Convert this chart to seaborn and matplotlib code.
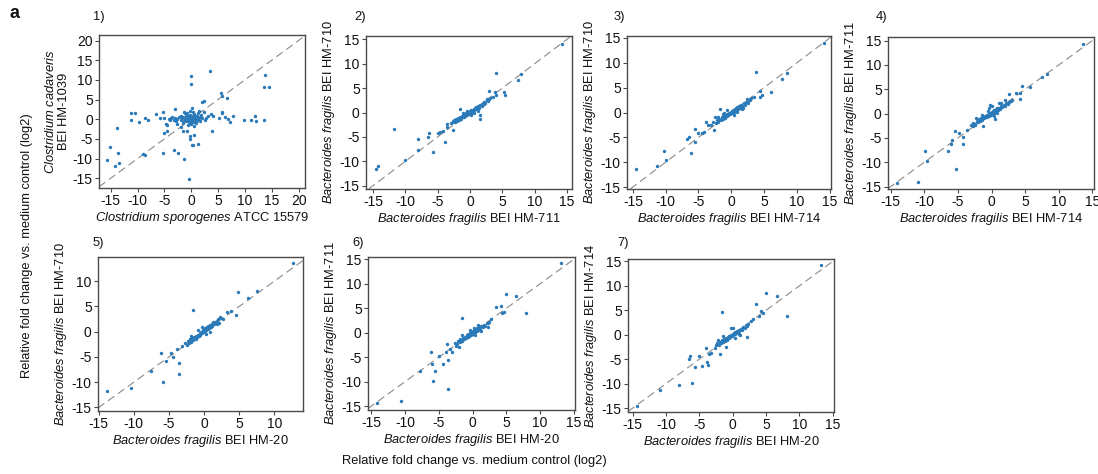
import matplotlib
matplotlib.use("Agg")
import matplotlib.pyplot as plt
import seaborn as sns
import pandas as pd

# ---------------- data ----------------
pts1 = [(0.0, 11.1), (0.0, 8.9), (3.5, 12.3), (13.8, 11.3), (13.5, 8.1), (14.4, 8.3),
        (5.6, 6.6), (5.8, 6.0), (6.6, 5.3), (2.0, 4.3), (2.4, 4.7), (-3.0, 2.7),
        (-5.3, 1.9), (0.1, 2.8), (-11.2, 1.5), (-10.4, 1.5), (-11.2, -0.2), (-8.6, 0.3),
        (-8.1, -0.3), (-9.8, -0.8), (-6.5, 1.3), (-5.8, 0.2), (5.7, 1.9), (5.7, 1.5),
        (6.2, 0.5), (7.3, -0.6), (7.7, 0.9), (6.8, 0.0), (5.2, 0.25), (9.9, -0.2),
        (11.2, -0.2), (11.9, 0.9), (12.1, -0.4), (13.5, -0.2), (3.7, 1.4), (4.0, 0.7),
        (3.2, 0.7), (-13.9, -2.3), (-15.1, -7.2), (-15.7, -10.3), (-14.3, -11.8),
        (-13.7, -8.7), (-13.4, -11.2), (-9.0, -8.8), (-8.6, -9.1), (-5.2, -8.6),
        (-3.3, -7.8), (-2.5, -8.6), (-1.3, -10.2), (-0.4, -15.1), (0.1, -6.5),
        (0.4, -6.5), (1.2, -6.3), (-0.2, -4.2), (-0.2, -5.1), (0.6, -4.0), (3.9, -3.1),
        (-5.0, -3.6), (-4.5, -3.1), (-4.8, -1.2), (-4.5, -1.6), (-1.4, 1.8), (-1.1, 1.5),
        (-1.6, -2.9), (-0.8, -3.1), (-2.7, -1.2), (-2.0, -1.9),
        (-5.0, 0.2), (-4.2, 0.1), (-3.8, 0.3), (-3.3, -0.1), (-3.0, 0.4), (-2.6, 0.0),
        (-2.3, 0.5), (-2.0, -0.3), (-1.8, 0.2), (-1.5, 0.6), (-1.3, -0.5), (-1.1, 0.1),
        (-0.9, 0.8), (-0.7, -0.2), (-0.5, 0.4), (-0.4, -0.8), (-0.3, 1.0), (-0.2, 0.1),
        (-0.1, -0.4), (0.0, 0.3), (0.1, -0.1), (0.2, 0.6), (0.3, -0.6), (0.4, 0.2),
        (0.5, 1.2), (0.6, -0.3), (0.7, 0.5), (0.8, -1.0), (0.9, 0.9), (1.0, 0.0),
        (1.2, 1.5), (1.4, 0.4), (1.6, -0.5), (1.8, 1.0), (2.0, 0.3), (2.3, 1.8),
        (2.5, -0.2), (0.0, -1.3), (-0.6, -1.5), (0.3, 1.8), (-0.2, 2.2), (0.5, -1.8),
        (-1.5, -1.0), (1.5, 2.2), (-0.8, 1.5), (0.1, 0.0), (-0.3, -0.2), (0.2, 0.2),
        (0.4, -0.4), (-0.1, 0.6), (0.6, 0.1), (-0.5, 0.0), (0.9, -0.6), (-1.0, -0.5),
        (1.1, 0.7), (0.3, 0.9), (-0.6, 0.7), (0.7, -0.7), (-0.2, -1.0), (1.3, -0.2),
        (-0.4, 0.3), (0.2, -0.3), (0.5, 0.5), (-0.7, 0.2), (0.8, 0.3), (-0.1, -0.7),
        (0.0, 0.9), (0.6, 0.8), (-0.3, 0.5), (0.4, -0.1), (-0.9, -0.1), (1.0, 0.4),
        (-2.8, -0.4), (-3.6, 0.6), (1.7, 0.6), (2.8, 0.2), (-1.9, 0.9), (-4.0, -0.3)]

pts2 = [(-14.5, -11.5), (-14.2, -11.0), (-11.7, -3.3), (-10.1, -9.7), (-8.0, -5.5),
        (-8.1, -7.7), (-6.5, -5.0), (-6.3, -4.2), (-5.8, -8.2), (-4.9, -4.2),
        (-4.6, -4.0), (-4.2, -3.7), (-3.9, -6.0), (-3.6, -2.3), (-3.5, -2.9),
        (-2.6, -3.6), (-2.6, -1.7), (-1.5, 0.8), (1.5, -0.5), (1.6, -1.4), (2.2, 1.8),
        (2.9, 4.4), (4.0, 8.1), (3.9, 4.2), (4.1, 3.5), (5.3, 4.2), (5.5, 3.5),
        (7.5, 6.7), (7.9, 7.8), (14.3, 14.1), (2.6, 2.7), (3.1, 3.0), (3.6, 3.2),
        (-3.0, -2.2), (-2.7, -2.0), (-2.5, -1.5), (-2.3, -1.9), (-2.1, -1.3),
        (-2.0, -1.7), (-1.8, -1.1), (-1.7, -1.5), (-1.5, -1.0), (-1.4, -1.3),
        (-1.3, -0.7), (-1.2, -1.0), (-1.0, -0.6), (-0.9, -0.9), (-0.8, -0.4),
        (-0.7, -0.7), (-0.6, -0.2), (-0.5, -0.5), (-0.4, 0.0), (-0.3, -0.3),
        (-0.2, 0.2), (-0.1, -0.1), (0.0, 0.3), (0.1, 0.0), (0.2, 0.5), (0.3, 0.2),
        (0.4, 0.6), (0.5, 0.3), (0.6, 0.8), (0.7, 0.5), (0.8, 1.0), (0.9, 0.7),
        (1.0, 1.1), (1.1, 0.9), (1.3, 1.3), (1.4, 1.0), (1.6, 1.6), (1.8, 1.4),
        (2.0, 1.9), (2.2, 2.2), (2.4, 2.0), (2.6, 2.5), (2.8, 2.3), (3.0, 2.8),
        (-0.5, 0.4), (0.2, -0.6), (-1.1, -0.2), (0.6, -0.2), (1.2, 0.3)]

pts3 = [(-14.5, -11.4), (-11.3, -10.8), (-10.3, -7.7), (-9.9, -9.6), (-6.7, -5.3),
        (-6.4, -4.9), (-6.2, -8.1), (-5.6, -5.9), (-5.5, -3.3), (-5.1, -4.1),
        (-4.5, -4.1), (-4.1, -3.9), (-3.9, -1.9), (-3.5, -2.6), (-2.7, -3.6),
        (-2.5, -0.9), (-1.7, 0.8), (-1.1, -0.2), (1.4, 1.3), (1.6, 0.8), (3.7, 8.1),
        (4.3, 4.3), (4.7, 3.5), (4.4, 3.2), (6.0, 4.2), (7.7, 6.8), (8.5, 8.0),
        (14.1, 13.9), (2.9, 2.6), (3.4, 3.2), (2.4, 2.8),
        (-3.1, -2.5), (-2.8, -2.0), (-2.4, -2.2), (-2.2, -1.6), (-2.0, -1.9),
        (-1.8, -1.3), (-1.6, -1.6), (-1.4, -1.0), (-1.3, -1.3), (-1.1, -0.8),
        (-1.0, -1.1), (-0.8, -0.5), (-0.7, -0.8), (-0.6, -0.3), (-0.5, -0.6),
        (-0.3, -0.1), (-0.2, -0.4), (-0.1, 0.1), (0.0, -0.2), (0.1, 0.3), (0.2, 0.0),
        (0.3, 0.5), (0.4, 0.2), (0.5, 0.7), (0.6, 0.4), (0.7, 0.9), (0.8, 0.6),
        (0.9, 1.1), (1.0, 0.8), (1.2, 1.4), (1.3, 1.0), (1.5, 1.6), (1.7, 1.3),
        (1.9, 1.9), (2.1, 1.6), (2.3, 2.2), (2.5, 2.0), (2.7, 2.5), (3.0, 2.9),
        (-0.6, 0.5), (0.4, -0.5), (-1.3, -0.3), (0.9, 0.1), (1.8, 0.9), (-2.1, -0.9)]

pts4 = [(-14.1, -14.2), (-10.9, -14.0), (-9.9, -7.7), (-9.6, -9.7), (-6.4, -7.7),
        (-6.0, -6.2), (-5.9, -5.5), (-5.4, -3.6), (-4.8, -3.9), (-5.3, -11.4),
        (-4.2, -4.8), (-4.2, -6.2), (-3.7, -3.4), (-2.7, -2.6), (-2.4, -2.3),
        (-1.2, -2.5), (-0.2, 1.8), (0.0, 1.5), (0.5, -1.2), (1.1, 2.2), (1.4, 2.1),
        (2.6, 4.0), (3.7, 4.2), (4.3, 4.2), (4.3, 3.1), (4.6, 5.6), (5.8, 5.5),
        (7.5, 7.6), (8.2, 8.1), (13.6, 14.4), (3.1, 2.9), (2.0, 2.7),
        (-3.0, -2.4), (-2.7, -1.9), (-2.5, -2.1), (-2.2, -1.6), (-2.0, -1.8),
        (-1.8, -1.2), (-1.7, -1.5), (-1.5, -1.0), (-1.4, -1.3), (-1.2, -0.7),
        (-1.1, -1.0), (-0.9, -0.5), (-0.8, -0.8), (-0.7, -0.3), (-0.6, -0.6),
        (-0.4, -0.1), (-0.3, -0.4), (-0.2, 0.1), (-0.1, -0.2), (0.0, 0.3), (0.1, 0.0),
        (0.2, 0.5), (0.3, 0.2), (0.4, 0.7), (0.5, 0.4), (0.6, 0.9), (0.7, 0.6),
        (0.8, 1.1), (0.9, 0.8), (1.0, 1.2), (1.2, 1.0), (1.4, 1.5), (1.6, 1.3),
        (1.8, 1.8), (2.0, 1.6), (2.2, 2.1), (2.4, 1.9), (2.6, 2.4), (2.9, 2.6),
        (-0.5, 0.6), (0.3, -0.4), (-1.4, -0.2), (0.8, 0.2), (-0.3, 1.2), (-2.3, -0.9)]

pts5 = [(-13.8, -11.7), (-10.4, -11.1), (-7.5, -7.7), (-5.8, -9.9), (-6.1, -4.2),
        (-5.4, -5.7), (-4.7, -4.3), (-4.4, -5.0), (-3.8, -3.4), (-3.6, -6.1),
        (-3.6, -8.3), (-3.2, -2.9), (-2.7, -2.2), (-1.5, 4.3), (2.0, 2.5), (2.3, 3.0),
        (3.3, 4.0), (3.8, 4.1), (4.5, 3.3), (4.8, 7.9), (6.2, 6.6), (7.6, 8.0),
        (12.7, 13.7), (1.3, 1.9), (1.8, 1.5), (2.7, 2.5),
        (-2.3, -1.9), (-2.1, -2.3), (-2.0, -1.5), (-1.8, -2.0), (-1.7, -1.3),
        (-1.5, -1.7), (-1.4, -1.0), (-1.2, -1.4), (-1.1, -0.8), (-1.0, -1.1),
        (-0.8, -0.6), (-0.7, -0.9), (-0.6, -0.3), (-0.5, -0.6), (-0.4, 0.0),
        (-0.3, -0.3), (-0.2, 0.3), (-0.1, 0.0), (0.0, 0.5), (0.1, 0.1), (0.2, 0.7),
        (0.3, 0.3), (0.4, 0.9), (0.5, 0.5), (0.6, 1.1), (0.7, 0.7), (0.9, 1.3),
        (1.0, 0.9), (1.1, 1.5), (1.2, 1.1), (1.4, 1.6), (1.6, 1.9), (1.9, 2.2),
        (2.1, 1.8), (2.4, 2.7), (-0.9, 0.3), (0.3, -0.5), (-1.9, -0.8), (0.8, 0.0),
        (-2.4, -2.7), (-0.3, 1.0)]

pts6 = [(-14.1, -14.3), (-10.6, -13.9), (-7.8, -7.8), (-6.2, -4.0), (-6.0, -6.3),
        (-5.8, -9.8), (-5.5, -7.8), (-4.9, -4.7), (-4.4, -6.4), (-3.9, -4.0),
        (-3.8, -2.4), (-3.7, -5.6), (-3.7, -11.5), (-3.3, -3.4), (-3.0, -3.9),
        (-2.4, -2.7), (-1.5, 3.1), (0.8, 1.6), (2.3, 1.1), (2.3, 1.9), (2.8, 2.9),
        (3.5, 5.3), (4.2, 5.4), (4.6, 4.2), (4.3, 4.1), (4.9, 7.9), (6.4, 7.5),
        (7.9, 4.1), (13.1, 14.3),
        (-2.6, -2.0), (-2.3, -2.3), (-2.1, -1.6), (-1.9, -1.9), (-1.8, -1.3),
        (-1.6, -1.6), (-1.4, -1.0), (-1.3, -1.3), (-1.1, -0.8), (-1.0, -1.1),
        (-0.8, -0.5), (-0.7, -0.8), (-0.6, -0.3), (-0.5, -0.6), (-0.3, -0.1),
        (-0.2, -0.4), (-0.1, 0.1), (0.0, -0.2), (0.1, 0.3), (0.2, 0.0), (0.3, 0.5),
        (0.4, 0.2), (0.5, 0.7), (0.6, 0.4), (0.7, 0.9), (0.8, 0.6), (1.0, 1.1),
        (1.1, 0.8), (1.3, 1.3), (1.5, 1.1), (1.7, 1.6), (1.9, 1.4), (2.1, 2.0),
        (2.5, 2.3), (-0.4, 0.6), (0.4, -0.4), (-1.5, -0.4), (1.2, 0.4), (-2.0, -3.0),
        (0.2, 1.0)]

pts7 = [(-14.4, -14.5), (-10.9, -11.4), (-8.0, -10.3), (-6.1, -9.9), (-6.4, -4.4),
        (-6.5, -4.9), (-5.7, -6.6), (-5.0, -4.4), (-4.6, -6.3), (-4.0, -2.7),
        (-3.8, -5.6), (-3.7, -6.1), (-3.6, -3.9), (-3.2, -3.7), (-2.7, -2.7),
        (-1.6, 4.6), (-1.9, -3.9), (-1.0, -2.5), (1.1, -0.1), (2.2, -0.4), (2.3, 2.3),
        (2.8, 2.9), (3.0, 3.3), (3.5, 6.2), (4.0, 3.8), (4.3, 4.8), (4.6, 4.5),
        (5.0, 8.6), (6.6, 7.9), (8.1, 3.8), (13.3, 14.2),
        (-2.5, -2.1), (-2.3, -1.7), (-2.1, -2.0), (-1.9, -1.4), (-1.8, -1.7),
        (-1.6, -1.1), (-1.5, -1.4), (-1.3, -0.9), (-1.2, -1.2), (-1.0, -0.7),
        (-0.9, -1.0), (-0.7, -0.4), (-0.6, -0.7), (-0.5, -0.2), (-0.4, -0.5),
        (-0.2, 0.0), (-0.1, -0.3), (0.0, 0.2), (0.1, -0.1), (0.2, 0.4), (0.3, 0.1),
        (0.4, 0.6), (0.5, 0.3), (0.6, 0.8), (0.7, 0.5), (0.9, 1.0), (1.0, 0.7),
        (1.2, 1.2), (1.4, 1.0), (1.6, 1.5), (1.8, 1.3), (2.0, 1.9), (2.2, 1.7),
        (-0.3, 1.3), (0.4, -0.6), (-1.4, -0.3), (0.9, 0.1), (0.1, 1.4), (-2.2, -1.0)]

xlabels = [r"$\it{Clostridium\ sporogenes}$ ATCC 15579",
           r"$\it{Bacteroides\ fragilis}$ BEI HM-711",
           r"$\it{Bacteroides\ fragilis}$ BEI HM-714",
           r"$\it{Bacteroides\ fragilis}$ BEI HM-714",
           r"$\it{Bacteroides\ fragilis}$ BEI HM-20",
           r"$\it{Bacteroides\ fragilis}$ BEI HM-20",
           r"$\it{Bacteroides\ fragilis}$ BEI HM-20"]
ylabels = [r"$\it{Clostridium\ cadaveris}$" + "\n" + "BEI HM-1039",
           r"$\it{Bacteroides\ fragilis}$ BEI HM-710",
           r"$\it{Bacteroides\ fragilis}$ BEI HM-710",
           r"$\it{Bacteroides\ fragilis}$ BEI HM-711",
           r"$\it{Bacteroides\ fragilis}$ BEI HM-710",
           r"$\it{Bacteroides\ fragilis}$ BEI HM-711",
           r"$\it{Bacteroides\ fragilis}$ BEI HM-714"]
panel_tags = ["1)", "2)", "3)", "4)", "5)", "6)", "7)"]
common_label = "Relative fold change vs. medium control (log2)"

# ---------------- style ----------------
sns.set_theme(style="white")
plt.rcParams["font.family"] = ["Liberation Sans", "DejaVu Sans"]
plt.rcParams["mathtext.fontset"] = "custom"
plt.rcParams["mathtext.rm"] = "Liberation Sans"
plt.rcParams["mathtext.it"] = "Liberation Sans:italic"
plt.rcParams["axes.unicode_minus"] = False

W, H = 1098, 474
fig = plt.figure(figsize=(W / 100, H / 100), dpi=100)

# axes boxes in pixels: left, top, right, bottom
boxes = [(99, 35, 305, 188), (366, 36, 572, 189), (627, 36, 831, 189), (888, 37, 1094, 189),
         (98, 257, 303, 411), (368, 257, 575, 410), (628, 259, 834, 412)]
limits = [((-17.2, 21.2), (-17.5, 21.4)),
          ((-16.1, 15.8), (-15.7, 15.7)),
          ((-15.9, 15.2), (-15.4, 15.4)),
          ((-15.4, 15.25), (-15.5, 15.75)),
          ((-15.1, 14.1), (-15.7, 14.8)),
          ((-15.5, 15.2), (-15.8, 15.5)),
          ((-15.7, 15.2), (-15.8, 15.5))]
ticks = [(list(range(-15, 21, 5)), list(range(-15, 21, 5)))] + \
        [(list(range(-15, 16, 5)), list(range(-15, 16, 5)))] * 3 + \
        [(list(range(-15, 11, 5)), list(range(-15, 11, 5)))] + \
        [(list(range(-15, 16, 5)), list(range(-15, 16, 5)))] * 2
tag_pos = [(93, 17), (354, 17), (614, 17), (876, 17), (93, 243), (352, 243), (617, 243)]
all_pts = [pts1, pts2, pts3, pts4, pts5, pts6, pts7]

edge = "#4a4a4a"
for i, (pts, box) in enumerate(zip(all_pts, boxes)):
    l, t, r, b = box
    ax = fig.add_axes([l / W, 1 - b / H, (r - l) / W, (b - t) / H])
    df = pd.DataFrame(pts, columns=["x", "y"])
    ax.axline((0, 0), slope=1, color="#8a8a8a", lw=0.8, ls=(0, (7, 4)), zorder=1)
    sns.scatterplot(data=df, x="x", y="y", ax=ax, s=6, color="#2a7ab9",
                    linewidth=0, zorder=3)
    ax.set_xlim(*limits[i][0])
    ax.set_ylim(*limits[i][1])
    ax.set_xticks(ticks[i][0])
    ax.set_yticks(ticks[i][1])
    ax.tick_params(axis="both", direction="out", length=3, width=0.8, color=edge,
                   labelsize=10, pad=1.5, labelcolor="#111111")
    ax.tick_params(axis="both", which="both", bottom=True, left=True)
    for sp in ax.spines.values():
        sp.set_color(edge)
        sp.set_linewidth(1.0)
    ax.set_xlabel(xlabels[i], fontsize=9.3, labelpad=1.5, color="#111111")
    ax.set_ylabel(ylabels[i], fontsize=9.3, labelpad=2, color="#111111",
                  linespacing=1.15)
    ax.grid(False)
    fig.text(tag_pos[i][0] / W, 1 - tag_pos[i][1] / H, panel_tags[i], fontsize=9.3,
             ha="left", va="center", color="#111111")

fig.text(14 / W, 1 - 13 / H, "a", fontsize=13, fontweight="bold", ha="center",
         va="center", color="#111111")
fig.text(474 / W, 1 - 461 / H, common_label, fontsize=9.3, ha="center", va="center",
         color="#111111")
fig.text(27 / W, 1 - 246 / H, common_label, fontsize=9.3, ha="center", va="center",
         rotation=90, color="#111111")

fig.savefig("out.png", dpi=100)
